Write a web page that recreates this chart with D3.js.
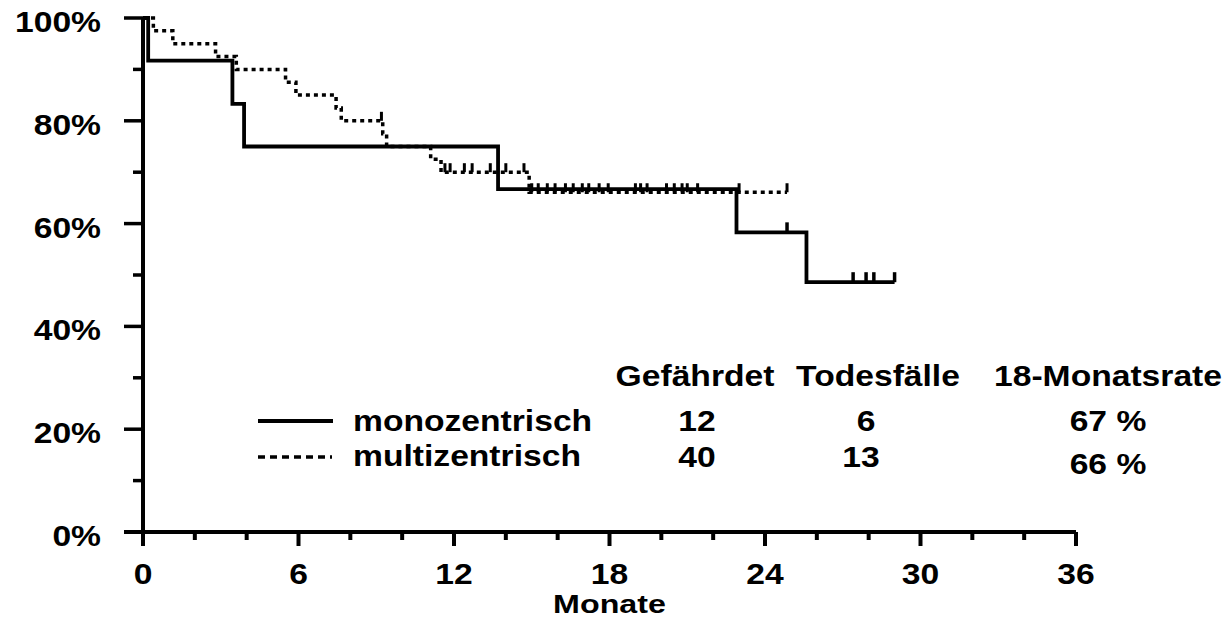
<!DOCTYPE html>
<html><head><meta charset="utf-8">
<script src="https://cdn.jsdelivr.net/npm/d3@7"></script>
<style>body{margin:0;background:#fff}</style>
</head><body>
<svg id="c" width="1227" height="619"></svg>
<script>
// ---- data ----
const xTicks = [0, 6, 12, 18, 24, 30, 36];
const yTicks = [0, 0.2, 0.4, 0.6, 0.8, 1.0];
const yTickLabels = ["0%", "20%", "40%", "60%", "80%", "100%"];
const seriesNames = ["monozentrisch", "multizentrisch"];
const tableHeaders = ["Gefährdet", "Todesfälle", "18-Monatsrate"];
const atRisk = ["12", "40"];
const deaths = ["6", "13"];
const rate18 = ["67 %", "66 %"];

const monoStepTimes = [0.2, 3.45, 3.9, 13.7, 22.9, 25.6];
const monoStepSurv  = [0.917, 0.833, 0.75, 0.667, 0.583, 0.486];
const monoEnd = 29.0;
const monoCensor = [24.85, 27.4, 27.9, 28.2, 29.0];

const multiStepTimes = [0.4, 1.15, 2.8, 3.6, 5.5, 5.9, 7.45, 7.65, 9.25, 9.4, 11.1, 11.5, 14.9];
const multiStepSurv  = [0.975, 0.95, 0.925, 0.90, 0.875, 0.85, 0.825, 0.80, 0.775, 0.75, 0.725, 0.70, 0.661];
const multiEnd = 24.85;
const multiCensor = [9.2, 11.65, 11.85, 12.4, 12.7, 13.4, 14.0, 14.7,
  15.0, 15.25, 15.6, 15.9, 16.3, 16.6, 16.95, 17.2, 17.6, 17.95, 19.0, 19.2, 19.45,
  20.2, 20.5, 20.8, 21.0, 21.4, 23.0, 24.85];

// ---- drawing ----
const svg = d3.select("#c");
const x = d3.scaleLinear().domain([0, 36]).range([143, 1076]);
const y = d3.scaleLinear().domain([0, 1]).range([532, 18]);
const FS = 29, SX = 1.16;
const font = "'Liberation Sans', Arial, sans-serif";

function txt(s, px, py, anchor, fs, sx) {
  svg.append("text")
    .attr("transform", `translate(${px},${py}) scale(${sx || SX},1)`)
    .attr("text-anchor", anchor)
    .attr("font-family", font).attr("font-weight", "bold")
    .attr("font-size", fs || FS).attr("fill", "#000").text(s);
}

// axes lines
svg.append("line").attr("x1", 124).attr("x2", x(36)).attr("y1", y(0)).attr("y2", y(0))
  .attr("stroke", "#000").attr("stroke-width", 4);
svg.append("line").attr("x1", x(0)).attr("x2", x(0)).attr("y1", y(1) - 1).attr("y2", y(0) + 14)
  .attr("stroke", "#000").attr("stroke-width", 4);

// y ticks
d3.range(0, 1.0001, 0.1).forEach((v, i) => {
  const major = i % 2 === 0;
  svg.append("line").attr("x1", major ? 124 : 133).attr("x2", x(0)).attr("y1", y(v)).attr("y2", y(v))
    .attr("stroke", "#000").attr("stroke-width", 3.5);
});
// x ticks
d3.range(0, 37, 2).forEach(v => {
  const major = v % 6 === 0;
  svg.append("line").attr("x1", x(v)).attr("x2", x(v)).attr("y1", y(0)).attr("y2", y(0) + (major ? 14 : 8))
    .attr("stroke", "#000").attr("stroke-width", 4);
});

yTicks.forEach((v, i) => txt(yTickLabels[i], 101, y(v) + 14, "end"));
xTicks.forEach(v => txt(String(v), x(v), 584, "middle"));
txt("Monate", x(18), 613, "middle", 26, 1.24);

// KM step paths
function stepPath(times, surv, end) {
  const pts = [[0, 1]];
  let s = 1;
  times.forEach((t, i) => { pts.push([t, s]); s = surv[i]; pts.push([t, s]); });
  pts.push([end, s]);
  return d3.line().x(d => x(d[0])).y(d => y(d[1]))(pts);
}
function survAt(times, surv, t) {
  let s = 1;
  times.forEach((tt, i) => { if (tt <= t) s = surv[i]; });
  return s;
}

svg.append("path").attr("d", stepPath(multiStepTimes, multiStepSurv, multiEnd))
  .attr("fill", "none").attr("stroke", "#000").attr("stroke-width", 3.5)
  .attr("stroke-dasharray", "4,4");
multiCensor.forEach(t => {
  const s = survAt(multiStepTimes, multiStepSurv, t);
  svg.append("line").attr("x1", x(t)).attr("x2", x(t)).attr("y1", y(s)).attr("y2", y(s) - 9)
    .attr("stroke", "#000").attr("stroke-width", 3);
});

svg.append("path").attr("d", stepPath(monoStepTimes, monoStepSurv, monoEnd))
  .attr("fill", "none").attr("stroke", "#000").attr("stroke-width", 3.8);
monoCensor.forEach(t => {
  const s = survAt(monoStepTimes, monoStepSurv, t);
  svg.append("line").attr("x1", x(t)).attr("x2", x(t)).attr("y1", y(s)).attr("y2", y(s) - 10)
    .attr("stroke", "#000").attr("stroke-width", 3.5);
});

// legend
svg.append("line").attr("x1", 258).attr("x2", 333).attr("y1", 421).attr("y2", 421)
  .attr("stroke", "#000").attr("stroke-width", 3.8);
svg.append("line").attr("x1", 258).attr("x2", 332).attr("y1", 457).attr("y2", 457)
  .attr("stroke", "#000").attr("stroke-width", 3.5).attr("stroke-dasharray", "7,5");
txt(seriesNames[0], 353, 431, "start");
txt(seriesNames[1], 353, 466, "start");

// table
const colX = [695, 878, 1108];
tableHeaders.forEach((h, i) => txt(h, colX[i], 386, "middle"));
txt(atRisk[0], 697, 431, "middle");
txt(atRisk[1], 697, 467, "middle");
txt(deaths[0], 866, 431, "middle");
txt(deaths[1], 861, 467, "middle");
txt(rate18[0], 1108, 431, "middle");
txt(rate18[1], 1108, 474, "middle");
</script>
</body></html>
